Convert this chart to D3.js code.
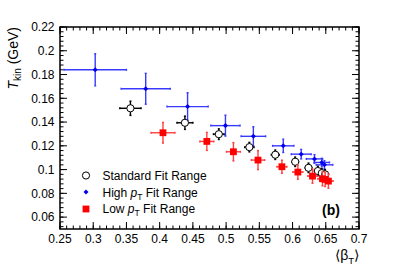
<!DOCTYPE html>
<html>
<head>
<meta charset="utf-8">
<script src="https://cdn.jsdelivr.net/npm/d3@7"></script>
<style>
  body { margin: 0; background: #fff; }
  svg { display: block; font-family: "Liberation Sans", Arial, sans-serif; }
</style>
</head>
<body>
<div id="chart"></div>
<script>
// standard fit range
const stdBeta    = [0.356, 0.438, 0.489, 0.535, 0.574, 0.604, 0.624, 0.638, 0.644, 0.649];
const stdBetaErr = [0.016, 0.012, 0.008, 0.007, 0.006, 0.005, 0.005, 0.005, 0.005, 0.005];
const stdT       = [0.1516, 0.1394, 0.1298, 0.1189, 0.1125, 0.1066, 0.1015, 0.0988, 0.097, 0.096];
const stdTErr    = [0.006, 0.0056, 0.0045, 0.004, 0.004, 0.004, 0.004, 0.004, 0.004, 0.004];

// high pT fit range
const highBeta    = [0.303, 0.379, 0.442, 0.499, 0.541, 0.586, 0.613, 0.633, 0.644, 0.648];
const highBetaErr = [0.047, 0.037, 0.031, 0.022, 0.0185, 0.016, 0.015, 0.0123, 0.0116, 0.0125];
const highT       = [0.184, 0.168, 0.153, 0.137, 0.128, 0.120, 0.113, 0.109, 0.106, 0.104];
const highTErr    = [0.0135, 0.013, 0.0117, 0.0088, 0.0081, 0.0056, 0.004, 0.0036, 0.0035, 0.0035];

// low pT fit range
const lowBeta    = [0.405, 0.471, 0.511, 0.548, 0.584, 0.608, 0.630, 0.645, 0.649, 0.654];
const lowBetaErr = [0.018, 0.0105, 0.0105, 0.01, 0.0075, 0.0075, 0.007, 0.007, 0.007, 0.007];
const lowT       = [0.131, 0.1237, 0.115, 0.108, 0.1024, 0.0979, 0.0945, 0.0923, 0.0917, 0.0903];
const lowTErr    = [0.0087, 0.0076, 0.0077, 0.008, 0.0055, 0.006, 0.006, 0.006, 0.006, 0.006];

const xTicks = [0.25, 0.3, 0.35, 0.4, 0.45, 0.5, 0.55, 0.6, 0.65, 0.7];
const yTicks = [0.06, 0.08, 0.1, 0.12, 0.14, 0.16, 0.18, 0.2, 0.22];

const W = 399, H = 270;
const m = {left: 60, right: 40, top: 27, bottom: 41};

const svg = d3.select("#chart").append("svg")
  .attr("width", W).attr("height", H);

const x = d3.scaleLinear().domain([0.25, 0.7]).range([m.left, W - m.right]);
const y = d3.scaleLinear().domain([0.05, 0.22]).range([H - m.bottom, m.top]);

const xMinor = d3.range(0.25, 0.7001, 0.01);
const yMinor = d3.range(0.052, 0.2201, 0.004);

function fmt(d) { return d3.format("")(+d.toFixed(2)); }

// axes with inward ticks on all sides
const g = svg.append("g").attr("stroke", "#000");
function ticks(axis, scale, vals, len, pos) {
  axis.selectAll(null).data(vals).enter().append("line")
    .attr("stroke-width", 1)
    .each(function(d) {
      const s = d3.select(this);
      if (pos === "bottom") s.attr("x1", scale(d)).attr("x2", scale(d)).attr("y1", y.range()[0]).attr("y2", y.range()[0] - len);
      if (pos === "top") s.attr("x1", scale(d)).attr("x2", scale(d)).attr("y1", y.range()[1]).attr("y2", y.range()[1] + len);
      if (pos === "left") s.attr("y1", scale(d)).attr("y2", scale(d)).attr("x1", x.range()[0]).attr("x2", x.range()[0] + len);
      if (pos === "right") s.attr("y1", scale(d)).attr("y2", scale(d)).attr("x1", x.range()[1]).attr("x2", x.range()[1] - len);
    });
}
ticks(g, x, xTicks, 7, "bottom");
ticks(g, x, xMinor, 3.5, "bottom");
ticks(g, x, xTicks, 7, "top");
ticks(g, x, xMinor, 3.5, "top");
ticks(g, y, yTicks, 7, "left");
ticks(g, y, yMinor, 3.5, "left");
ticks(g, y, yTicks, 7, "right");
ticks(g, y, yMinor, 3.5, "right");

svg.append("rect")
  .attr("x", x.range()[0]).attr("y", y.range()[1])
  .attr("width", x.range()[1] - x.range()[0])
  .attr("height", y.range()[0] - y.range()[1])
  .attr("fill", "none").attr("stroke", "#000").attr("stroke-width", 1.5);

svg.append("g").selectAll("text").data(xTicks).enter().append("text")
  .attr("x", d => x(d)).attr("y", H - m.bottom + 13.5)
  .attr("text-anchor", "middle").attr("font-size", 12)
  .text(fmt);

svg.append("g").selectAll("text").data(yTicks).enter().append("text")
  .attr("x", m.left - 5.5).attr("y", d => y(d) + 4.3)
  .attr("text-anchor", "end").attr("font-size", 12)
  .text(fmt);

// axis titles
const yt = svg.append("text")
  .attr("transform", `translate(18,${m.top}) rotate(-90)`)
  .attr("text-anchor", "end").attr("font-size", 14);
yt.append("tspan").attr("font-style", "italic").text("T");
yt.append("tspan").attr("font-size", 10).attr("dy", 3).text("kin");
yt.append("tspan").attr("dy", -3).text(" (GeV)");

const xt = svg.append("text")
  .attr("x", W - m.right).attr("y", 260)
  .attr("text-anchor", "end").attr("font-size", 14);
xt.append("tspan").text("\u27E8\u03B2");
xt.append("tspan").attr("font-size", 9.5).attr("dy", 4).text("T");
xt.append("tspan").attr("dy", -4).text("\u27E9");

// error bars
function errorBars(bx, bxe, ty, tye, color) {
  const data = bx.map((b, i) => ({b, be: bxe[i], t: ty[i], te: tye[i]}));
  const eg = svg.append("g").attr("stroke", color).attr("stroke-width", 1.4);
  data.forEach(d => {
    eg.append("line").attr("x1", x(d.b - d.be)).attr("x2", x(d.b + d.be)).attr("y1", y(d.t)).attr("y2", y(d.t));
    eg.append("line").attr("x1", x(d.b)).attr("x2", x(d.b)).attr("y1", y(d.t - d.te)).attr("y2", y(d.t + d.te));
    eg.append("line").attr("x1", x(d.b - d.be)).attr("x2", x(d.b - d.be)).attr("y1", y(d.t) - 1).attr("y2", y(d.t) + 1);
    eg.append("line").attr("x1", x(d.b + d.be)).attr("x2", x(d.b + d.be)).attr("y1", y(d.t) - 1).attr("y2", y(d.t) + 1);
    eg.append("line").attr("y1", y(d.t - d.te)).attr("y2", y(d.t - d.te)).attr("x1", x(d.b) - 1).attr("x2", x(d.b) + 1);
    eg.append("line").attr("y1", y(d.t + d.te)).attr("y2", y(d.t + d.te)).attr("x1", x(d.b) - 1).attr("x2", x(d.b) + 1);
  });
  return data;
}

const hi = errorBars(highBeta, highBetaErr, highT, highTErr, "#3a3aff");
svg.append("g").selectAll("path").data(hi).enter().append("path")
  .attr("d", d3.symbol(d3.symbolDiamond2, 16))
  .attr("transform", d => `translate(${x(d.b)},${y(d.t)})`)
  .attr("fill", "#0000ee");

const st = errorBars(stdBeta, stdBetaErr, stdT, stdTErr, "#000");
svg.append("g").selectAll("circle").data(st).enter().append("circle")
  .attr("cx", d => x(d.b)).attr("cy", d => y(d.t)).attr("r", 3.6)
  .attr("fill", "#fff").attr("stroke", "#000").attr("stroke-width", 1);

const lo = errorBars(lowBeta, lowBetaErr, lowT, lowTErr, "#ff4040");
svg.append("g").selectAll("rect").data(lo).enter().append("rect")
  .attr("x", d => x(d.b) - 3.4).attr("y", d => y(d.t) - 3.4)
  .attr("width", 6.8).attr("height", 6.8).attr("fill", "#ff0000");

// legend
const legend = svg.append("g").attr("font-size", 12);
legend.append("circle").attr("cx", 86).attr("cy", 175.5).attr("r", 3.6)
  .attr("fill", "#fff").attr("stroke", "#000");
legend.append("text").attr("x", 102.5).attr("y", 180).text("Standard Fit Range");

legend.append("path").attr("d", d3.symbol(d3.symbolDiamond2, 16)())
  .attr("transform", "translate(86,192)").attr("fill", "#0000ee");
const l2 = legend.append("text").attr("x", 102.5).attr("y", 196.5);
l2.append("tspan").text("High ");
l2.append("tspan").attr("font-style", "italic").text("p");
l2.append("tspan").attr("font-size", 8.5).attr("dy", 3).text("T");
l2.append("tspan").attr("dy", -3).text(" Fit Range");

legend.append("rect").attr("x", 82.6).attr("y", 205.6).attr("width", 6.8).attr("height", 6.8).attr("fill", "#ff0000");
const l3 = legend.append("text").attr("x", 102.5).attr("y", 213);
l3.append("tspan").text("Low ");
l3.append("tspan").attr("font-style", "italic").text("p");
l3.append("tspan").attr("font-size", 8.5).attr("dy", 3).text("T");
l3.append("tspan").attr("dy", -3).text(" Fit Range");

svg.append("text").attr("x", 322).attr("y", 214.5)
  .attr("font-size", 14).attr("font-weight", "bold").text("(b)");
</script>
</body>
</html>
